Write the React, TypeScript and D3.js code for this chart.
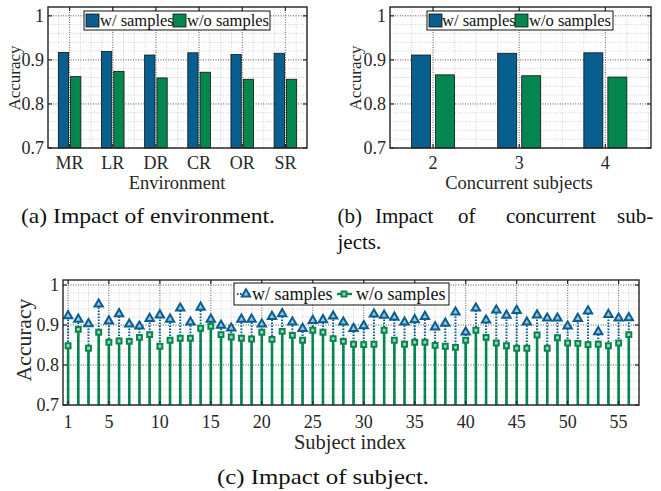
import * as d3 from "d3";

const FONT = "'Liberation Serif', 'Times New Roman', serif";
const BLUE = "#075e8f";
const GREEN = "#06864f";

// (a) impact of environment
const environments = ["MR", "LR", "DR", "CR", "OR", "SR"];
const envWithSamples = [0.917, 0.919, 0.911, 0.916, 0.912, 0.915];
const envWithoutSamples = [0.862, 0.874, 0.859, 0.872, 0.856, 0.856];

// (b) impact of concurrent subjects
const concurrentSubjects = [2, 3, 4];
const concWithSamples = [0.911, 0.915, 0.916];
const concWithoutSamples = [0.866, 0.864, 0.861];

// (c) impact of subject, index 1..56
const subjWithSamples = [
  0.923, 0.914, 0.903, 0.952, 0.910, 0.928, 0.902, 0.897, 0.916, 0.925,
  0.914, 0.942, 0.907, 0.944, 0.914, 0.899, 0.892, 0.914, 0.914, 0.902,
  0.921, 0.928, 0.907, 0.891, 0.911, 0.913, 0.922, 0.907, 0.891, 0.898,
  0.927, 0.924, 0.919, 0.907, 0.913, 0.921, 0.895, 0.904, 0.932, 0.882,
  0.942, 0.912, 0.937, 0.924, 0.936, 0.907, 0.925, 0.917, 0.917, 0.897,
  0.916, 0.935, 0.883, 0.926, 0.917, 0.918,
];
const subjWithoutSamples = [
  0.848, 0.889, 0.842, 0.882, 0.857, 0.860, 0.859, 0.869, 0.876, 0.847,
  0.862, 0.867, 0.867, 0.892, 0.897, 0.876, 0.870, 0.867, 0.865, 0.882,
  0.864, 0.884, 0.874, 0.862, 0.887, 0.882, 0.866, 0.859, 0.852, 0.851,
  0.852, 0.887, 0.862, 0.852, 0.857, 0.857, 0.849, 0.847, 0.844, 0.862,
  0.887, 0.869, 0.855, 0.848, 0.842, 0.842, 0.875, 0.842, 0.868, 0.855,
  0.854, 0.851, 0.852, 0.848, 0.855, 0.876,
];

const accuracyTicks = [0.7, 0.8, 0.9, 1];
const subjectTicks = [1, 5, 10, 15, 20, 25, 30, 35, 40, 45, 50, 55];

function Axes(props) {
  const { x, y, xMajor, xMinor, yMajor, yMinor, xLabels, labelGap, children } = props;
  const [x0, x1] = x.range();
  const [yb, yt] = y.range();
  return (
    <g>
      <rect x={x0} y={yt} width={x1 - x0} height={yb - yt} fill="#fff" />
      {/* minor grid */}
      <g stroke="#bdbdbd" strokeWidth={0.7} strokeDasharray="1,1.5">
        {xMinor.map((v, i) => (
          <line key={"xm" + i} x1={x(v)} x2={x(v)} y1={yt} y2={yb} />
        ))}
        {yMinor.map((v, i) => (
          <line key={"ym" + i} x1={x0} x2={x1} y1={y(v)} y2={y(v)} />
        ))}
      </g>
      {/* major grid */}
      <g stroke="#555" strokeWidth={0.8} strokeDasharray="1,1.5">
        {xMajor.map((v, i) => (
          <line key={"xM" + i} x1={x(v)} x2={x(v)} y1={yt} y2={yb} />
        ))}
        {yMajor.map((v, i) => (
          <line key={"yM" + i} x1={x0} x2={x1} y1={y(v)} y2={y(v)} />
        ))}
      </g>
      {children}
      <rect x={x0} y={yt} width={x1 - x0} height={yb - yt} fill="none" stroke="#262626" strokeWidth={1.4} />
      <g stroke="#262626" strokeWidth={1.2}>
        {xMajor.map((v, i) => (
          <g key={"xt" + i}>
            <line x1={x(v)} x2={x(v)} y1={yb} y2={yb - 4} />
            <line x1={x(v)} x2={x(v)} y1={yt} y2={yt + 4} />
          </g>
        ))}
        {yMajor.map((v, i) => (
          <g key={"yt" + i}>
            <line x1={x0} x2={x0 + 4} y1={y(v)} y2={y(v)} />
            <line x1={x1} x2={x1 - 4} y1={y(v)} y2={y(v)} />
          </g>
        ))}
      </g>
      <g fontFamily={FONT} fontSize={18} fill="#262626">
        {xMajor.map((v, i) => (
          <text key={"xl" + i} x={x(v)} y={yb + labelGap} textAnchor="middle">
            {xLabels ? xLabels[i] : String(v)}
          </text>
        ))}
        {yMajor.map((v, i) => (
          <text key={"yl" + i} x={x0 - 4} y={y(v)} dy="0.35em" textAnchor="end">
            {d3.format("~g")(v)}
          </text>
        ))}
      </g>
    </g>
  );
}

function BarLegend({ left, top, width, parts }) {
  // parts: [swatchX, textX, swatchX, textX] relative to left
  return (
    <g fontFamily={FONT} fontSize={16.5} fill="#111">
      <rect x={left} y={top} width={width} height={19} fill="#fff" stroke="#111" strokeWidth={1} />
      <rect x={left + parts[0]} y={top + 3} width={13} height={13} fill={BLUE} stroke="#111" strokeWidth={0.8} />
      <text x={left + parts[1]} y={top + 15}>w/ samples</text>
      <rect x={left + parts[2]} y={top + 3} width={13} height={13} fill={GREEN} stroke="#111" strokeWidth={0.8} />
      <text x={left + parts[3]} y={top + 15}>w/o samples</text>
    </g>
  );
}

function minorTicks(lo, hi, step) {
  const out = [];
  for (let v = lo; v <= hi + 1e-9; v += step) out.push(+v.toFixed(4));
  return out;
}

export default function App() {
  // ---- panel (a)
  const xa = d3.scaleLinear().domain([0.5, 6.5]).range([48, 307]);
  const ya = d3.scaleLinear().domain([0.7, 1.02]).range([148, 7]);
  const catIdx = environments.map((_, i) => i + 1);

  // ---- panel (b)
  const xb = d3.scaleLinear().domain([1.5, 4.53]).range([390, 651]);
  const yb = d3.scaleLinear().domain([0.7, 1.02]).range([148, 7]);

  // ---- panel (c)
  const xc = d3.scaleLinear().domain([0.5, 57]).range([63, 639]);
  const yc = d3.scaleLinear().domain([0.7, 1.0125]).range([405, 280]);
  const idx = subjWithSamples.map((_, i) => i + 1);

  const yMinorAB = minorTicks(0.7, 1.02, 0.02);
  const yMinorC = minorTicks(0.7, 1.01, 0.02);

  const tri = d3.symbol().type(d3.symbolTriangle).size(30)();
  const sq = d3.symbol().type(d3.symbolSquare).size(24)();

  // caption (b) is justified across the column, word by word
  const capB = [["(b)", 337.5], ["Impact", 375], ["of", 458], ["concurrent", 506], ["sub-", 617]];

  return (
    <svg width={661} height={491} style={{ position: "absolute", left: 0, top: 0 }}>
      <rect width={661} height={491} fill="#fff" />

      {/* (a) */}
      <Axes x={xa} y={ya} xMajor={catIdx} xMinor={minorTicks(0.5, 6.5, 0.25)} yMajor={accuracyTicks}
        yMinor={yMinorAB} xLabels={environments} labelGap={21}>
        {catIdx.map((c, i) => (
          <g key={c} stroke="#111" strokeWidth={0.8}>
            <rect x={xa(c) - 11.3} y={ya(envWithSamples[i])} width={10.3}
              height={ya(0.7) - ya(envWithSamples[i])} fill={BLUE} />
            <rect x={xa(c) + 1} y={ya(envWithoutSamples[i])} width={10.3}
              height={ya(0.7) - ya(envWithoutSamples[i])} fill={GREEN} />
          </g>
        ))}
      </Axes>
      <BarLegend left={84} top={11} width={186} parts={[2, 16, 89, 103]} />
      <text x={177} y={189} textAnchor="middle" fontFamily={FONT} fontSize={18.5} fill="#262626">Environment</text>
      <text transform="translate(20,78) rotate(-90)" textAnchor="middle" fontFamily={FONT} fontSize={17} fill="#262626">Accuracy</text>

      {/* (b) */}
      <Axes x={xb} y={yb} xMajor={concurrentSubjects} xMinor={minorTicks(1.5, 4.5, 0.25)} yMajor={accuracyTicks}
        yMinor={yMinorAB} labelGap={21}>
        {concurrentSubjects.map((c, i) => (
          <g key={c} stroke="#111" strokeWidth={0.8}>
            <rect x={xb(c) - 21.5} y={yb(concWithSamples[i])} width={19}
              height={yb(0.7) - yb(concWithSamples[i])} fill={BLUE} />
            <rect x={xb(c) + 2.5} y={yb(concWithoutSamples[i])} width={19}
              height={yb(0.7) - yb(concWithoutSamples[i])} fill={GREEN} />
          </g>
        ))}
      </Axes>
      <BarLegend left={427} top={11} width={186} parts={[2, 15, 88, 102]} />
      <text x={519} y={189} textAnchor="middle" fontFamily={FONT} fontSize={18.5} fill="#262626">Concurrent subjects</text>
      <text transform="translate(361,78) rotate(-90)" textAnchor="middle" fontFamily={FONT} fontSize={17} fill="#262626">Accuracy</text>

      {/* (c) */}
      <Axes x={xc} y={yc} xMajor={subjectTicks} xMinor={idx} yMajor={accuracyTicks}
        yMinor={yMinorC} labelGap={23}>
        {idx.map((s, i) => (
          <line key={"bs" + s} x1={xc(s)} x2={xc(s)} y1={yc(0.7)} y2={yc(subjWithSamples[i])}
            stroke={BLUE} strokeWidth={2} strokeDasharray="1.6,1.4" />
        ))}
        {idx.map((s, i) => (
          <line key={"gs" + s} x1={xc(s)} x2={xc(s)} y1={yc(0.7)} y2={yc(subjWithoutSamples[i])}
            stroke={GREEN} strokeWidth={2.6} />
        ))}
        {idx.map((s, i) => (
          <path key={"bt" + s} d={tri} transform={`translate(${xc(s)},${yc(subjWithSamples[i])})`}
            fill="#9fc0d6" stroke={BLUE} strokeWidth={2} />
        ))}
        {idx.map((s, i) => (
          <path key={"gq" + s} d={sq} transform={`translate(${xc(s)},${yc(subjWithoutSamples[i])})`}
            fill="#9fd2b8" stroke={GREEN} strokeWidth={2} />
        ))}
      </Axes>
      <g fontFamily={FONT} fontSize={18} fill="#111">
        <rect x={234} y={283} width={215} height={22} fill="#fff" stroke="#111" strokeWidth={1} />
        <line x1={237} x2={250} y1={294} y2={294} stroke={BLUE} strokeWidth={2} strokeDasharray="1.6,1.4" />
        <path d={tri} transform="translate(246,294)" fill="#9fc0d6" stroke={BLUE} strokeWidth={2} />
        <text x={252} y={300}>w/ samples</text>
        <line x1={337} x2={352} y1={294} y2={294} stroke={GREEN} strokeWidth={2.4} />
        <path d={sq} transform="translate(344,294)" fill="#9fd2b8" stroke={GREEN} strokeWidth={2} />
        <text x={356} y={300}>w/o samples</text>
      </g>
      <text x={350} y={449} textAnchor="middle" fontFamily={FONT} fontSize={20.5} fill="#262626">Subject index</text>
      <text transform="translate(31,340) rotate(-90)" textAnchor="middle" fontFamily={FONT} fontSize={21.5} fill="#262626">Accuracy</text>

      {/* captions */}
      <g fontFamily={FONT} fontSize={21} fill="#111">
        <text x={21} y={223} textLength={254} lengthAdjust="spacingAndGlyphs">(a) Impact of environment.</text>
        {capB.map(([w, px]) => (
          <text key={w} x={px} y={223}>{w}</text>
        ))}
        <text x={337.5} y={249}>jects.</text>
        <text x={217} y={484} textLength={212} lengthAdjust="spacingAndGlyphs">(c) Impact of subject.</text>
      </g>
    </svg>
  );
}
